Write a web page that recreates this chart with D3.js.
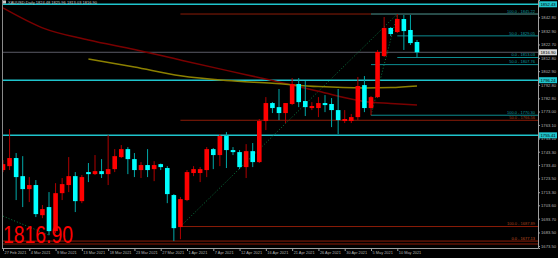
<!DOCTYPE html>
<html>
<head>
<meta charset="utf-8">
<script src="https://cdnjs.cloudflare.com/ajax/libs/d3/7.8.5/d3.min.js"></script>
<style>
  body { margin: 0; background: #000; }
  svg { display: block; }
</style>
</head>
<body>
<svg id="chart" width="558" height="258" font-family="Liberation Sans, Arial, sans-serif"></svg>
<script>
// XAUUSD daily bars, 27 Feb - 13 May 2021
var dates = ["2021-02-27",
  "2021-03-01","2021-03-02","2021-03-03","2021-03-04","2021-03-05","2021-03-06",
  "2021-03-08","2021-03-09","2021-03-10","2021-03-11","2021-03-12","2021-03-13",
  "2021-03-15","2021-03-16","2021-03-17","2021-03-18","2021-03-19","2021-03-20",
  "2021-03-22","2021-03-23","2021-03-24","2021-03-25","2021-03-26","2021-03-27",
  "2021-03-29","2021-03-30","2021-03-31","2021-04-01","2021-04-03",
  "2021-04-05","2021-04-06","2021-04-07","2021-04-08","2021-04-09","2021-04-10",
  "2021-04-12","2021-04-13","2021-04-14","2021-04-15","2021-04-16","2021-04-17",
  "2021-04-19","2021-04-20","2021-04-21","2021-04-22","2021-04-23","2021-04-24",
  "2021-04-26","2021-04-27","2021-04-28","2021-04-29","2021-04-30","2021-05-01",
  "2021-05-03","2021-05-04","2021-05-05","2021-05-06","2021-05-07","2021-05-08",
  "2021-05-10","2021-05-11","2021-05-12","2021-05-13"];

var opens  = [1729.7,1732.6,1738.6,1725.2,1715.6,1718.6,1696.3,1702.3,1684.5,1712.6,1718.6,1725.2,1706.7,
  1728.2,1726.7,1728.9,1726.7,1730.4,1739.3,1745.2,1737.8,1729.7,1733.4,1730.4,1734.1,
  1731.2,1711.2,1687.5,1707.5,1727.5,1727.5,1729.7,1745.2,1740.8,1754.9,1744.5,
  1743.0,1731.9,1743.7,1735.6,1766.0,1779.3,1776.3,1771.9,1778.6,1793.4,1780.8,1775.6,
  1775.6,1779.3,1778.6,1774.1,1766.0,1766.0,1768.9,1792.6,1775.6,1783.7,1814.1,1834.9,
  1831.9,1841.5,1833.4,1824.5];
var highs  = [1737.1,1760.0,1742.3,1740.0,1724.5,1722.3,1703.8,1713.4,1720.0,1723.8,1739.3,1728.2,1726.0,
  1734.9,1740.8,1737.8,1755.6,1745.2,1748.2,1746.7,1742.3,1735.6,1745.2,1736.3,1734.5,
  1732.6,1711.9,1709.7,1729.7,1732.6,1731.9,1746.7,1746.0,1756.3,1757.8,1746.7,
  1744.5,1748.9,1749.7,1767.5,1783.7,1780.0,1789.7,1779.3,1797.8,1797.8,1795.6,1780.0,
  1783.7,1785.2,1783.0,1789.7,1774.1,1771.2,1798.6,1799.3,1784.5,1818.6,1843.0,1835.6,
  1845.2,1844.5,1844.5,1826.0];
var lows   = [1728.2,1729.7,1707.5,1702.3,1706.0,1694.9,1694.1,1681.5,1683.0,1707.5,1713.4,1698.6,1705.2,
  1720.8,1726.0,1723.8,1718.6,1728.2,1738.6,1726.7,1724.5,1723.8,1724.5,1721.5,1729.7,
  1705.2,1677.1,1678.5,1706.7,1725.2,1720.8,1724.5,1730.4,1732.6,1731.2,1740.8,
  1730.4,1723.8,1731.9,1734.9,1759.3,1771.9,1766.7,1764.5,1777.8,1776.3,1769.7,1774.1,
  1768.9,1772.6,1761.5,1756.3,1764.5,1764.5,1766.7,1772.6,1770.3,1783.0,1813.4,1828.9,
  1831.2,1818.6,1822.3,1813.0];
var closes = [1734.1,1738.6,1724.5,1715.6,1718.6,1697.1,1700.8,1684.5,1712.6,1719.3,1725.2,1706.7,1724.5,
  1726.7,1728.9,1726.7,1730.4,1740.0,1745.2,1737.8,1729.7,1733.4,1729.7,1733.4,1731.9,
  1711.9,1686.7,1708.2,1728.2,1730.4,1730.4,1745.2,1740.8,1754.9,1744.5,1743.0,
  1731.9,1743.7,1735.6,1766.0,1779.3,1775.6,1771.9,1779.3,1793.4,1780.0,1776.3,1777.1,
  1779.3,1777.8,1774.1,1766.7,1767.5,1768.9,1791.9,1775.6,1783.7,1817.1,1834.9,1830.4,
  1841.5,1832.6,1823.7,1816.9];

// moving averages, read every few bars
var maIdx  = [0, 6, 13, 20, 27, 34, 41, 48, 55, 59, 63];
var maRed  = [1849.7, 1835.0, 1826.0, 1819.0, 1811.2, 1803.5, 1796.0, 1788.0, 1780.5, 1779.0, 1777.8];
var maOlive= [null, null, 1812.0, 1806.0, 1799.5, 1796.0, 1794.0, 1791.5, 1790.5, 1790.8, 1792.0];

var priceTicks = [1842.8,1832.9,1822.7,1812.8,1802.9,1792.8,1782.8,1773.0,1763.1,1753.1,
  1743.3,1733.4,1723.5,1713.3,1703.6,1693.7,1683.5,1673.5];

// horizontal levels
var hLines = [1852.43, 1796.24, 1755.41];
var lastPrice = 1816.90;

// fibonacci tools: level prices, captions, start bar
var fibTealPrice = [1845.22, 1829.05, 1813.03, 1807.76, 1770.30];
var fibTealName  = ["100.0", "50.0", "0.0", "50.0", "100.0"];
var fibTealFrom  = [56, 60, 60, 56, 56];
var fibRedPrice  = [1845.22, 1766.56, 1687.89];
var fibRedName   = ["0.0", "50.0", "100.0"];
var fibRedFrom   = 27;
var fibLowPrice  = [1677.13, 1674.95];
var fibLowName   = ["0.0", "0.0"];

var W = 558, H = 258, plotR = 538, plotB = 248;
var svg = d3.select("#chart");
svg.append("rect").attr("width", W).attr("height", H).attr("fill", "#000");

var x = d3.scalePoint().domain(dates).range([3, 417]);
var y = d3.scaleLinear().domain([1672, 1855.6]).range([plotB, 0]);
var bw = 4.6;

svg.append("clipPath").attr("id", "clip")
  .append("rect").attr("x", 2).attr("y", 0).attr("width", plotR - 2).attr("height", plotB);
var g = svg.append("g").attr("clip-path", "url(#clip)");

function fmt(v) { return v.toFixed(2); }

// full width levels
g.selectAll(".hl").data(hLines).enter().append("line")
  .attr("x1", 2).attr("x2", plotR)
  .attr("y1", function(d) { return y(d); }).attr("y2", function(d) { return y(d); })
  .attr("stroke", "#1fc4cc").attr("stroke-width", 1.5);

g.selectAll(".fl").data(fibLowPrice).enter().append("line")
  .attr("x1", 2).attr("x2", plotR)
  .attr("y1", function(d) { return y(d); }).attr("y2", function(d) { return y(d); })
  .attr("stroke", "#8c1c08").attr("stroke-width", 1);

// red fib
g.selectAll(".fr").data(fibRedPrice).enter().append("line")
  .attr("x1", x(dates[fibRedFrom])).attr("x2", plotR)
  .attr("y1", function(d) { return y(d); }).attr("y2", function(d) { return y(d); })
  .attr("stroke", "#8c1c08").attr("stroke-width", 1);

// teal fib
g.selectAll(".ft").data(fibTealPrice).enter().append("line")
  .attr("x1", function(d, i) { return x(dates[fibTealFrom[i]]); }).attr("x2", plotR)
  .attr("y1", function(d) { return y(d); }).attr("y2", function(d) { return y(d); })
  .attr("stroke", "#0c8c90").attr("stroke-width", 1);

// bid line
g.append("line").attr("x1", 2).attr("x2", plotR)
  .attr("y1", y(lastPrice)).attr("y2", y(lastPrice))
  .attr("stroke", "#5a5a66").attr("stroke-width", 1);

// fib trend lines (dotted)
var trend = [
  [dates[fibRedFrom], fibRedPrice[2], dates[60], fibRedPrice[0]],
  [dates[56], fibTealPrice[4], dates[60], fibTealPrice[0]],
  [dates[0], 1695.6, dates[7], 1681.5]
];
g.selectAll(".tr").data(trend).enter().append("line")
  .attr("x1", function(d) { return x(d[0]); }).attr("y1", function(d) { return y(d[1]); })
  .attr("x2", function(d) { return x(d[2]); }).attr("y2", function(d) { return y(d[3]); })
  .attr("stroke", "#0a7a40").attr("stroke-width", 1).attr("stroke-dasharray", "1,2");

// moving averages
var maLine = function(vals) {
  return d3.line().defined(function(d, i) { return vals[i] != null; })
    .x(function(d, i) { return x(dates[maIdx[i]]); })
    .y(function(d, i) { return y(vals[i]); })
    .curve(d3.curveMonotoneX)(maIdx);
};
g.append("path").attr("d", maLine(maRed)).attr("fill", "none").attr("stroke", "#7a0000").attr("stroke-width", 1.5);
g.append("path").attr("d", maLine(maOlive)).attr("fill", "none").attr("stroke", "#8c8000").attr("stroke-width", 1.5);

// candles
var idx = d3.range(dates.length);
var candles = g.selectAll(".c").data(idx).enter().append("g");
candles.append("line")
  .attr("x1", function(i) { return x(dates[i]); }).attr("x2", function(i) { return x(dates[i]); })
  .attr("y1", function(i) { return y(highs[i]); }).attr("y2", function(i) { return y(lows[i]); })
  .attr("stroke", function(i) { return closes[i] >= opens[i] ? "#b00000" : "#00a8a8"; })
  .attr("stroke-width", 1);
candles.append("rect")
  .attr("x", function(i) { return x(dates[i]) - bw / 2; })
  .attr("width", bw)
  .attr("y", function(i) { return y(Math.max(opens[i], closes[i])); })
  .attr("height", function(i) { return Math.max(1, Math.abs(y(opens[i]) - y(closes[i]))); })
  .attr("fill", function(i) { return closes[i] >= opens[i] ? "#ff0000" : "#00ffff"; });

// fib captions
var cap = svg.append("g").attr("font-size", 4).attr("text-anchor", "end");
cap.selectAll(".ct").data(fibTealPrice).enter().append("text")
  .attr("x", plotR - 3).attr("y", function(d) { return y(d) - 1.2; })
  .attr("fill", "#0c9ca0")
  .text(function(d, i) { return fibTealName[i] + " - " + fmt(d); });
cap.selectAll(".cr").data(fibRedPrice.slice(1)).enter().append("text")
  .attr("x", plotR - 3).attr("y", function(d) { return y(d) - 1.2; })
  .attr("fill", "#a8401c")
  .text(function(d, i) { return fibRedName[i + 1] + " - " + fmt(d); });
cap.selectAll(".cl").data(fibLowPrice.slice(0, 1)).enter().append("text")
  .attr("x", plotR - 3).attr("y", function(d) { return y(d) - 1.2; })
  .attr("fill", "#c85020")
  .text(function(d, i) { return fibLowName[i] + " - " + fmt(d); });

// frame
svg.append("line").attr("x1", 2.5).attr("x2", 2.5).attr("y1", 0).attr("y2", plotB)
  .attr("stroke", "#8a8a8a").attr("stroke-width", 1);

// price axis
var ya = svg.append("g").attr("transform", "translate(" + plotR + ",0)")
  .call(d3.axisRight(y).tickValues(priceTicks).tickFormat(fmt).tickSize(2).tickPadding(1));
ya.select(".domain").attr("stroke", "#a0a0a0");
ya.selectAll(".tick line").attr("stroke", "#a0a0a0");
ya.selectAll(".tick text").attr("fill", "#b4b4b4").attr("font-size", 4.2)
  .attr("font-family", "Liberation Sans, Arial, sans-serif");

// highlighted price tags
var tags = hLines.map(function(v) { return { v: v, c: "#1fc4cc" }; });
tags.push({ v: lastPrice, c: "#d8d8d8" });
var tg = svg.selectAll(".tag").data(tags).enter().append("g")
  .attr("transform", function(d) { return "translate(" + (plotR + 1) + "," + y(d.v) + ")"; });
tg.append("rect").attr("x", 0).attr("y", -3).attr("width", 18).attr("height", 6)
  .attr("fill", function(d) { return d.c; });
tg.append("text").attr("x", 1.5).attr("y", 1.5).attr("font-size", 4.2).attr("fill", "#000")
  .text(function(d) { return fmt(d.v); });

// time axis
var dateTicks = dates.filter(function(d, i) { return i % 4 === 0; });
var parse = d3.timeParse("%Y-%m-%d"), tf = d3.timeFormat("%-d %b %Y");
var xa = svg.append("g").attr("transform", "translate(0," + plotB + ")")
  .call(d3.axisBottom(x).tickValues(dateTicks)
    .tickFormat(function(d) { return tf(parse(d)); }).tickSize(3).tickPadding(1));
xa.select(".domain").remove();
svg.append("line").attr("x1", 2).attr("x2", plotR).attr("y1", plotB + 0.5).attr("y2", plotB + 0.5)
  .attr("stroke", "#a0a0a0");
xa.selectAll(".tick line").attr("stroke", "#a0a0a0");
xa.selectAll(".tick text").attr("fill", "#b4b4b4").attr("font-size", 3.9)
  .attr("font-family", "Liberation Sans, Arial, sans-serif").attr("text-anchor", "start").attr("dx", 1).attr("dy", "0.4em");

// header
svg.append("rect").attr("x", 3).attr("y", 0.5).attr("width", 3).attr("height", 3).attr("fill", "#c8c8c8");
svg.append("text").attr("x", 8).attr("y", 3.6).attr("font-size", 4).attr("fill", "#c8c8c8")
  .text("XAUUSD,Daily  1824.48 1825.96 1813.03 1816.90");

// big price readout
svg.append("text").attr("x", 3).attr("y", 243).attr("font-size", 23.5)
  .attr("font-family", "Liberation Sans Narrow, Liberation Sans, Arial, sans-serif").attr("fill", "#ff0000")
  .attr("textLength", 70).attr("lengthAdjust", "spacingAndGlyphs")
  .text(fmt(lastPrice));
</script>
</body>
</html>
